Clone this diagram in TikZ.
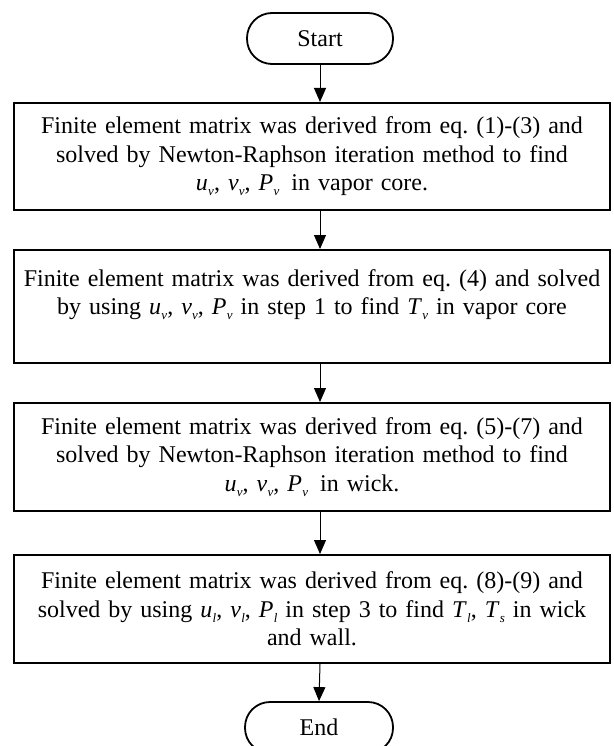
\documentclass[tikz,border=0pt]{standalone}
\usepackage{fontspec}
\setmainfont{Liberation Serif}
\usetikzlibrary{arrows.meta}
\frenchspacing
\newcommand{\vsub}[2]{\textit{#1}\kern0.3pt\raisebox{-0.45ex}{\fontsize{13}{13}\selectfont\textit{#2}}}
\begin{document}
\begin{tikzpicture}[x=1pt,y=-1pt,
  txt/.style={font=\fontsize{24}{28.5}\selectfont},
  terminal/.style={txt, draw, line width=1.8pt, rounded corners=25pt, minimum width=146pt, minimum height=51pt, inner sep=0pt},
  stepbox/.style={txt, draw, line width=2pt, minimum width=596pt, text width=594pt, align=center, inner sep=0pt},
  flow/.style={line width=1pt, -{Triangle[length=14pt,width=12pt]}}]
\useasboundingbox (0,0) rectangle (613,746);
\node[terminal] (start) at (320,38.5) {Start};
\node[stepbox, minimum height=107pt] (b1) at (312,156.5) {\frenchspacing Finite element matrix was derived from eq. (1)-(3) and\\ solved by Newton-Raphson iteration method to find\\ \vsub{u}{v}, \vsub{v}{v}, \vsub{P}{v}\, in vapor core.};
\node[stepbox, minimum height=113pt] (b2) at (312,306.5) {\frenchspacing Finite element matrix was derived from eq. (4) and solved\\ by using \vsub{u}{v}, \vsub{v}{v}, \vsub{P}{v} in step 1 to find \vsub{T}{v} in vapor core\\ \mbox{}};
\node[stepbox, minimum height=108pt] (b3) at (312,457) {\frenchspacing Finite element matrix was derived from eq. (5)-(7) and\\ solved by Newton-Raphson iteration method to find\\ \vsub{u}{v}, \vsub{v}{v}, \vsub{P}{v}\, in wick.};
\node[stepbox, minimum height=108pt] (b4) at (312,609) {\frenchspacing Finite element matrix was derived from eq. (8)-(9) and\\ solved by using \vsub{u}{l}, \vsub{v}{l}, \vsub{P}{l} in step 3 to find \vsub{T}{l}, \vsub{T}{s} in wick\\ and wall.};
\node[terminal, minimum width=148pt] (end) at (319,727.5) {End};
\draw[flow] (start.south) -- (start.south |- b1.north);
\draw[flow] (b1.south -| start.south) -- (b2.north -| start.south);
\draw[flow] (b2.south -| start.south) -- (b3.north -| start.south);
\draw[flow] (b3.south -| start.south) -- (b4.north -| start.south);
\draw[flow] (b4.south -| start.south) -- (end.north);
\end{tikzpicture}
\end{document}
